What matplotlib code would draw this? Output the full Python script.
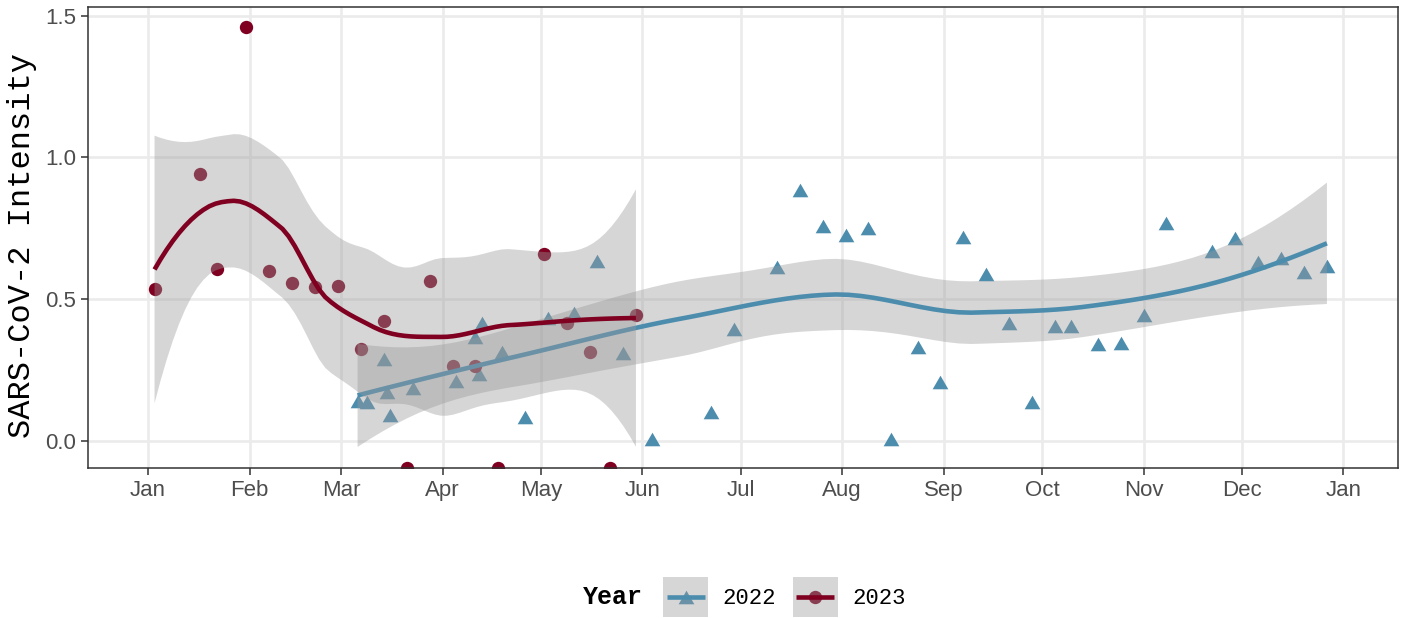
import numpy as np
import pandas as pd
import matplotlib
matplotlib.use("Agg")
import matplotlib.pyplot as plt
from matplotlib.lines import Line2D
from matplotlib.patches import Patch, Rectangle
from matplotlib.legend_handler import HandlerBase

# Sampling day (days since 1 January) and SARS-CoV-2 intensity per year.
days_2022 = [64, 67, 72, 73, 74, 81, 94, 100, 101, 102, 108, 115, 122, 130,
             137, 145, 154, 172, 179, 192, 199, 206, 213, 220, 227, 235, 242,
             249, 256, 263, 270, 277, 282, 290, 297, 304, 311, 325, 332, 339,
             346, 353, 360]
intensity_2022 = [0.141, 0.136, 0.287, 0.173, 0.091, 0.185, 0.212, 0.365,
                  0.234, 0.417, 0.314, 0.083, 0.432, 0.450, 0.635, 0.311,
                  0.006, 0.100, 0.393, 0.614, 0.885, 0.758, 0.726, 0.750,
                  0.006, 0.330, 0.208, 0.720, 0.588, 0.414, 0.137, 0.405,
                  0.405, 0.340, 0.346, 0.444, 0.767, 0.670, 0.717, 0.632,
                  0.646, 0.594, 0.617]

days_2023 = [2, 16, 21, 30, 37, 44, 51, 58, 65, 72, 79, 86, 93, 100, 107,
             121, 128, 135, 141, 149]
# -inf marks samples whose log intensity is undefined; they sit on the lower edge
intensity_2023 = [0.535, 0.941, 0.607, 1.462, 0.599, 0.556, 0.544, 0.546,
                  0.323, 0.424, -np.inf, 0.564, 0.264, 0.264, -np.inf, 0.659,
                  0.414, 0.314, -np.inf, 0.445]

years = ["2022", "2023"]
year_colors = ["#4C8DAE", "#7F0020"]

month_starts = pd.date_range("2022-01-01", "2023-01-01", freq="MS")
month_ticks = (month_starts - month_starts[0]).days.to_numpy()
month_labels = list(month_starts.strftime("%b"))
y_ticks = [0.0, 0.5, 1.0, 1.5]


def t_quantile_975(df):
    z = 1.959963985
    g1 = (z**3 + z) / 4
    g2 = (5 * z**5 + 16 * z**3 + 3 * z) / 96
    g3 = (3 * z**7 + 19 * z**5 + 17 * z**3 - 15 * z) / 384
    g4 = (79 * z**9 + 776 * z**7 + 1482 * z**5 - 1920 * z**3 - 945 * z) / 92160
    return z + g1 / df + g2 / df**2 + g3 / df**3 + g4 / df**4


def loess_band(x, y, n_grid=80, span=0.75, cell=0.2):
    """Local quadratic loess (tricube weights), evaluated on kd-tree vertices
    and blended by cubic Hermite interpolation, with a 95% confidence band."""
    x = np.asarray(x, float)
    y = np.asarray(y, float)
    n = len(x)
    q = int(np.floor(n * span))
    fc = int(np.floor(n * span * cell))

    def local_rows(x0):
        d = np.abs(x - x0)
        h = np.sort(d)[q - 1]
        u = np.clip(d / h, 0, 1)
        w = (1 - u**3) ** 3
        X = np.column_stack([np.ones(n), x - x0, (x - x0) ** 2])
        XtW = X.T * w
        B = np.linalg.solve(XtW @ X, XtW)
        return B[0], B[1]

    xs = np.sort(x)
    margin = 0.005 * (xs[-1] - xs[0])
    verts = [xs[0] - margin, xs[-1] + margin]

    def split(pts):
        if len(pts) <= fc:
            return
        m = (len(pts) + 1) // 2
        verts.append(0.5 * (pts[m - 1] + pts[m]))
        split(pts[:m])
        split(pts[m:])

    split(xs)
    verts = np.unique(verts)
    rows = [local_rows(v) for v in verts]
    Lv = np.array([r[0] for r in rows])
    Ls = np.array([r[1] for r in rows])

    def interp_rows(xq):
        out = np.empty((len(xq), n))
        for k, x0 in enumerate(xq):
            i = int(np.clip(np.searchsorted(verts, x0) - 1, 0, len(verts) - 2))
            hgt = verts[i + 1] - verts[i]
            t = (x0 - verts[i]) / hgt
            h00 = 2 * t**3 - 3 * t**2 + 1
            h10 = t**3 - 2 * t**2 + t
            h01 = -2 * t**3 + 3 * t**2
            h11 = t**3 - t**2
            out[k] = (h00 * Lv[i] + h10 * hgt * Ls[i]
                      + h01 * Lv[i + 1] + h11 * hgt * Ls[i + 1])
        return out

    L = interp_rows(x)
    resid = y - L @ y
    I_L = np.eye(n) - L
    M = I_L.T @ I_L
    delta1 = np.trace(M)
    delta2 = np.trace(M @ M)
    sigma = np.sqrt(resid @ resid / delta1)

    grid = np.linspace(x.min(), x.max(), n_grid)
    Lg = interp_rows(grid)
    fit = Lg @ y
    se = sigma * np.sqrt((Lg**2).sum(axis=1))
    t = t_quantile_975(delta1**2 / delta2)
    return grid, fit, fit - t * se, fit + t * se


class SmoothKeyHandler(HandlerBase):
    """Legend key: ribbon-coloured square with the line and marker centred."""

    def create_artists(self, legend, orig_handle, xdescent, ydescent,
                       width, height, fontsize, trans):
        pt, bg, ln = orig_handle
        x0, y0 = -xdescent, -ydescent
        cx, cy = x0 + width / 2, y0 + height / 2
        rect = Rectangle((x0, y0), width, height, facecolor=bg.get_facecolor(),
                         lw=0, transform=trans)
        mark = Line2D([cx], [cy], linestyle="none", marker=pt.get_marker(),
                      markersize=pt.get_markersize(),
                      markerfacecolor=pt.get_markerfacecolor(),
                      markeredgewidth=0, transform=trans)
        line = Line2D([x0 + 0.08 * width, x0 + 0.92 * width], [cy, cy],
                      color=ln.get_color(), lw=ln.get_linewidth(),
                      solid_capstyle="butt", transform=trans)
        return [mark, rect, line]


mono = "Liberation Mono"
sans = "Liberation Sans"
W, H = 1408, 618
fig = plt.figure(figsize=(W / 100, H / 100), dpi=100)
left, right, top, bottom = 88.3, 1398.3, 6.7, 467.7
ax = fig.add_axes([left / W, 1 - bottom / H, (right - left) / W, (bottom - top) / H])
ax.set_xlim(-18.23, 381.8)
ax.set_ylim(-0.0953, 1.532)

# Markers: equilateral-style triangle and circle
tri = [(0, 1), (1.155, -1), (-1.155, -1), (0, 1)]
markers = [tri, "o"]
marker_sizes = [11.3, 9.6]

series = [(days_2022, intensity_2022), (days_2023, intensity_2023)]
ymin, ymax = ax.get_ylim()

for (d, v), color, mk, ms in zip(series, year_colors, markers, marker_sizes):
    d = np.asarray(d, float)
    v = np.asarray(v, float)
    shown = np.where(np.isfinite(v), v, np.where(v < 0, ymin, ymax))
    ax.plot(d, shown, linestyle="none", marker=mk, markersize=ms,
            markerfacecolor=color, markeredgewidth=0, zorder=2)

z = 3
for (d, v), color in zip(series, year_colors):
    d = np.asarray(d, float)
    v = np.asarray(v, float)
    ok = np.isfinite(v)
    gx, fit, lo, hi = loess_band(d[ok], v[ok])
    ax.fill_between(gx, lo, hi, facecolor="#999999", alpha=0.4, lw=0, zorder=z)
    ax.plot(gx, fit, color=color, lw=3.3, solid_capstyle="butt", zorder=z + 1)
    z += 2

ax.set_xticks(month_ticks)
ax.set_xticklabels(month_labels)
ax.set_yticks(y_ticks)
ax.set_yticklabels([f"{t:.1f}" for t in y_ticks])
ax.grid(True, color="#EBEBEB", lw=1.9)
ax.set_axisbelow(True)
ax.tick_params(axis="both", length=5, width=1.1, color="#333333",
               labelsize=16, labelcolor="#4D4D4D", pad=4)
for lab in ax.get_xticklabels() + ax.get_yticklabels():
    lab.set_fontfamily(sans)
for s in ax.spines.values():
    s.set_color("#333333")
    s.set_linewidth(1.1)

ax.set_ylabel("SARS-CoV-2 Intensity", fontfamily=mono, fontsize=23,
              color="black", va="center")
ax.yaxis.set_label_coords((22 - left) / (right - left), (bottom - 245) / (bottom - top))

# Legend keys: ribbon fill with the fitted line and the year's marker
handles = []
for color, mk, ms in zip(year_colors, markers, marker_sizes):
    pt = Line2D([], [], linestyle="none", marker=mk, markersize=ms,
                markerfacecolor=color, markeredgewidth=0)
    bg = Patch(facecolor=(0.6, 0.6, 0.6, 0.4), lw=0)
    ln = Line2D([], [], color=color, lw=3.3)
    handles.append((pt, bg, ln))

fig.legend(handles, years, handler_map={tuple: SmoothKeyHandler()},
           ncol=2, frameon=False, loc="center left",
           bbox_to_anchor=(663 / W, 1 - 597 / H), borderpad=0, borderaxespad=0,
           handlelength=2.03, handleheight=2.4, handletextpad=0.65,
           columnspacing=0.75, prop={"family": mono, "size": 16})
fig.text(582.7 / W, 1 - 597 / H, "Year", fontfamily=mono, fontweight="bold",
         fontsize=18, va="center", ha="left")

fig.savefig("out.png", dpi=100, facecolor="white")
